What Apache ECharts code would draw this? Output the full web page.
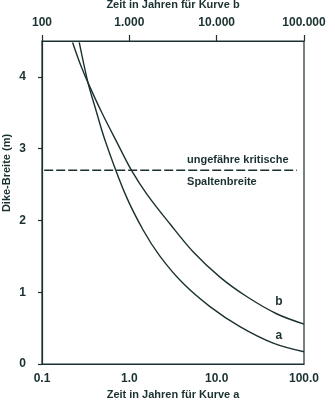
<!DOCTYPE html>
<html>
<head>
<meta charset="utf-8">
<script src="https://cdn.jsdelivr.net/npm/echarts@6/dist/echarts.min.js"></script>
<style>
  html, body { margin: 0; padding: 0; background: #ffffff; }
  #chart { width: 335px; height: 400px; }
</style>
</head>
<body>
<div id="chart"></div>
<script>
// Curve a: time in years (bottom axis) vs. dike width in metres
const curveATime  = [0.267, 0.336, 0.407, 0.529, 0.895, 1.449, 2.249, 4.153, 8.38, 18.46, 44.37, 100];
const curveAWidth = [4.48, 3.92, 3.57, 3.11, 2.37, 1.86, 1.50, 1.12, 0.80, 0.52, 0.29, 0.17];

// Curve b: time in years (top axis) vs. dike width in metres
const curveBTime  = [224, 274, 336, 485, 741, 1068, 1600, 2927, 5403, 10905, 22030, 48500, 100000];
const curveBWidth = [4.48, 4.18, 3.92, 3.50, 3.06, 2.69, 2.36, 1.95, 1.56, 1.21, 0.94, 0.70, 0.556];

// Approximate critical fissure width (dashed line)
const criticalWidth = 2.7;
const criticalSpan = [0.106, 83];
const criticalText = ['ungefähre kritische', 'Spaltenbreite'];

// Axis ranges
const bottomRange = [0.1, 100];
const topRange = [100, 100000];
const yRange = [0, 4.5];

const ink = '#1b3131';
const font = 'Liberation Sans, Arial, sans-serif';

const zip = (xs, ys) => xs.map((x, i) => [x, ys[i]]);
const thousands = v => String(Math.round(v)).replace(/\B(?=(\d{3})+(?!\d))/g, '.');

const chart = echarts.init(document.getElementById('chart'), null, { renderer: 'canvas' });

chart.setOption({
  animation: false,
  backgroundColor: '#ffffff',
  grid: {
    left: 42, right: 31, top: 41, bottom: 36,
    containLabel: false, outerBoundsMode: 'none',
    show: true, borderColor: ink, borderWidth: 1.2
  },
  xAxis: [
    {
      type: 'log', logBase: 10, position: 'bottom',
      min: bottomRange[0], max: bottomRange[1],
      name: 'Zeit in Jahren für Kurve a',
      nameLocation: 'middle', nameGap: 24,
      nameTextStyle: { color: ink, fontFamily: font, fontSize: 11, fontWeight: 'bold' },
      axisLine: { show: true, lineStyle: { color: ink, width: 1.2 } },
      axisTick: { show: false },
      minorTick: { show: false },
      splitLine: { show: false },
      axisLabel: {
        color: ink, fontFamily: font, fontSize: 12, fontWeight: 'bold', margin: 9,
        formatter: v => Number(v).toFixed(1)
      }
    },
    {
      type: 'log', logBase: 10, position: 'top',
      min: topRange[0], max: topRange[1],
      name: 'Zeit in Jahren für Kurve b',
      nameLocation: 'middle', nameGap: 31,
      nameTextStyle: { color: ink, fontFamily: font, fontSize: 11, fontWeight: 'bold' },
      axisLine: { show: true, lineStyle: { color: ink, width: 1.2 } },
      axisTick: { show: true, inside: false, length: 6, lineStyle: { color: ink, width: 1.2 } },
      minorTick: { show: false },
      splitLine: { show: false },
      axisLabel: {
        color: ink, fontFamily: font, fontSize: 12, fontWeight: 'bold', margin: 12,
        formatter: v => thousands(v)
      }
    }
  ],
  yAxis: {
    type: 'value', min: yRange[0], max: yRange[1], interval: 1,
    axisLine: { show: true, lineStyle: { color: ink, width: 1.2 } },
    axisTick: { show: true, inside: false, length: 4, lineStyle: { color: ink, width: 1.2 } },
    splitLine: { show: false },
    axisLabel: {
      color: ink, fontFamily: font, fontSize: 12, fontWeight: 'bold', margin: 16,
      showMaxLabel: false,
      formatter: v => (Number.isInteger(v) ? String(v) : '')
    }
  },
  graphic: [
    {
      type: 'text', x: 7, y: 173, rotation: Math.PI / 2,
      style: {
        text: 'Dike-Breite (m)', fill: ink, font: 'bold 11px ' + font,
        textAlign: 'center', textVerticalAlign: 'middle'
      }
    }
  ],
  series: [
    {
      name: 'a', type: 'line', xAxisIndex: 0, yAxisIndex: 0,
      data: zip(curveATime, curveAWidth),
      smooth: 0.35, showSymbol: false, clip: true,
      lineStyle: { color: ink, width: 1.4 },
      markPoint: {
        symbol: 'circle', symbolSize: 0, silent: true,
        label: { show: true, color: ink, fontFamily: font, fontSize: 12, fontWeight: 'bold', formatter: 'a' },
        data: [{ coord: [51.5, 0.40] }]
      }
    },
    {
      name: 'b', type: 'line', xAxisIndex: 1, yAxisIndex: 0,
      data: zip(curveBTime, curveBWidth),
      smooth: 0.35, showSymbol: false, clip: true,
      lineStyle: { color: ink, width: 1.4 },
      markPoint: {
        symbol: 'circle', symbolSize: 0, silent: true,
        label: { show: true, color: ink, fontFamily: font, fontSize: 12, fontWeight: 'bold', formatter: 'b' },
        data: [{ coord: [51500, 0.87] }]
      }
    },
    {
      name: 'kritisch', type: 'line', xAxisIndex: 0, yAxisIndex: 0,
      data: criticalSpan.map(t => [t, criticalWidth]),
      showSymbol: false,
      lineStyle: { color: ink, width: 1.5, type: [9, 3] },
      markPoint: {
        symbol: 'circle', symbolSize: 0, silent: true,
        label: {
          show: true, color: ink, fontFamily: font, fontSize: 11, fontWeight: 'bold',
          align: 'left', verticalAlign: 'middle'
        },
        data: [
          { coord: [4.58, criticalWidth], label: { formatter: criticalText[0], offset: [0, -10] } },
          { coord: [4.58, criticalWidth], label: { formatter: criticalText[1], offset: [0, 12] } }
        ]
      }
    }
  ]
});
</script>
</body>
</html>
